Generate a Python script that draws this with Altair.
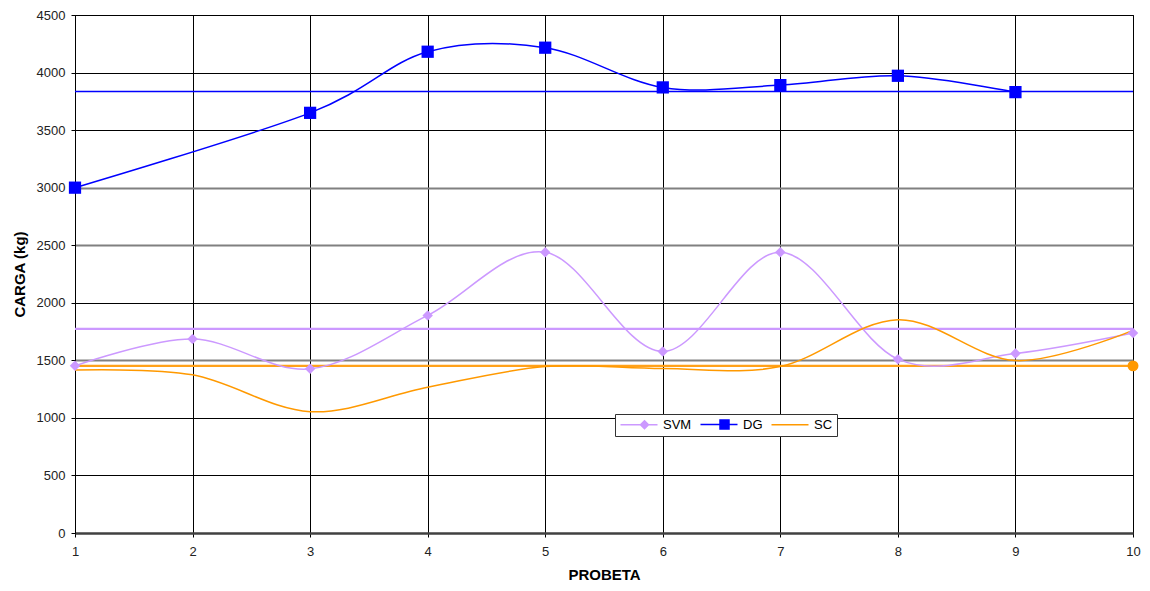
import altair as alt
import pandas as pd

# ---- data ----
probeta = [1, 2, 3, 4, 5, 6, 7, 8, 9, 10]
svm = [1452, 1685, 1426, 1890, 2439, 1577, 2439, 1510, 1559, 1737]
dg_probeta = [1, 3, 4, 5, 6, 7, 8, 9]
dg = [3000, 3650, 4181, 4216, 3871, 3891, 3972, 3830]
sc = [1415, 1374, 1054, 1266, 1446, 1429, 1446, 1853, 1498, 1760]
avg_names = ["DG", "SVM", "SC"]
avg_values = [3836, 1773, 1452]
sc_end_probeta = [10]
sc_end_value = [1452]
series_names = ["SVM", "DG", "SC"]
series_colors = ["#CC99FF", "#0000FF", "#FF9900"]
avg_colors = ["#0000FF", "#CC99FF", "#FFA11A"]
avg_widths = [1.4, 2.2, 2.2]
y_ticks = [0, 500, 1000, 1500, 2000, 2500, 3000, 3500, 4000, 4500]
x_ticks = [1, 2, 3, 4, 5, 6, 7, 8, 9, 10]

FONT = "Liberation Sans"

svm_df = pd.DataFrame({"probeta": probeta, "carga": svm})
dg_df = pd.DataFrame({"probeta": dg_probeta, "carga": dg})
sc_df = pd.DataFrame({"probeta": probeta, "carga": sc})
sc_end_df = pd.DataFrame({"probeta": sc_end_probeta, "carga": sc_end_value})
legend_df = pd.DataFrame({"serie": series_names})

gray_test = "datum.value === 1500 || datum.value === 2500 || datum.value === 3000"


def xenc():
    return alt.X(
        "probeta:Q",
        scale=alt.Scale(domain=[1, 10], nice=False, zero=False),
        axis=alt.Axis(
            title="PROBETA", values=x_ticks, format="d", grid=True,
            gridColor="black", gridWidth=1, tickSize=4, tickColor="black",
            domainColor="#404040", domainWidth=2.5, labelPadding=8,
            titlePadding=9, labelFlush=False,
        ),
    )


def yenc():
    return alt.Y(
        "carga:Q",
        scale=alt.Scale(domain=[0, 4500], nice=False),
        axis=alt.Axis(
            title="CARGA (kg)", values=y_ticks, format="d", grid=True,
            gridColor={"condition": {"test": gray_test, "value": "#808080"}, "value": "black"},
            gridWidth={"condition": {"test": gray_test, "value": 2}, "value": 1},
            tickSize=4, tickColor="black", domainColor="black", domainWidth=1,
            labelPadding=6, titlePadding=9,
        ),
    )


rules = []
for i in range(len(avg_values)):
    rules.append(
        alt.Chart(pd.DataFrame({"carga": [avg_values[i]]}))
        .mark_rule(color=avg_colors[i], strokeWidth=avg_widths[i])
        .encode(y=yenc())
    )

svm_line = alt.Chart(svm_df).mark_line(
    interpolate="cardinal", color=series_colors[0], strokeWidth=1.5
).encode(x=xenc(), y=yenc())
svm_pts = alt.Chart(svm_df).mark_point(
    shape="diamond", filled=True, size=110, color=series_colors[0], opacity=1
).encode(x=xenc(), y=yenc())

dg_line = alt.Chart(dg_df).mark_line(
    interpolate="cardinal", color=series_colors[1], strokeWidth=1.5
).encode(x=xenc(), y=yenc())
dg_pts = alt.Chart(dg_df).mark_point(
    shape="square", filled=True, size=150, color=series_colors[1], opacity=1
).encode(x=xenc(), y=yenc())

sc_line = alt.Chart(sc_df).mark_line(
    interpolate="cardinal", color=series_colors[2], strokeWidth=1.5
).encode(x=xenc(), y=yenc())
sc_pt = alt.Chart(sc_end_df).mark_point(
    shape="circle", filled=True, size=120, color=series_colors[2], opacity=1
).encode(x=xenc(), y=yenc())

# legend symbols: line + marker as custom paths
shape_paths = [
    "M-1,0H6.4M3.8,-0.8L4.6,0L3.8,0.8L3,0Z",
    "M-1,0H6.4M2.9,-0.9H4.7V0.9H2.9Z",
    "M-1,0H6.4",
]
leg = alt.Legend(
    title=None, orient="none", legendX=540, legendY=399, direction="horizontal",
    symbolSize=100, symbolStrokeWidth=1.5, symbolOpacity=1, labelOffset=31,
    columnPadding=5, padding=4, fillColor="white", strokeColor="#333333",
    labelFont=FONT, labelFontSize=13, labelColor="black",
)
legend_layer = alt.Chart(legend_df).mark_point(opacity=0, filled=True).encode(
    x=alt.value(0), y=alt.value(0),
    fill=alt.Fill("serie:N", scale=alt.Scale(domain=series_names, range=series_colors), legend=leg),
    stroke=alt.Stroke("serie:N", scale=alt.Scale(domain=series_names, range=series_colors), legend=leg),
    shape=alt.Shape("serie:N", scale=alt.Scale(domain=series_names, range=shape_paths), legend=leg),
)

chart = (
    alt.layer(*rules, svm_line, dg_line, sc_line, svm_pts, dg_pts, sc_pt, legend_layer)
    .properties(
        width=1058, height=518,
        autosize=alt.AutoSizeParams(type="none"),
        padding={"left": 67, "top": 7, "right": 9, "bottom": 50},
        background="white",
    )
    .configure_view(stroke="black", strokeWidth=1)
    .configure_axis(
        labelFont=FONT, labelFontSize=13, labelColor="#222222",
        titleFont=FONT, titleFontSize=15, titleFontWeight="bold", titleColor="black",
    )
)

chart.save("out.html", embed_options={"renderer": "svg", "actions": False})
